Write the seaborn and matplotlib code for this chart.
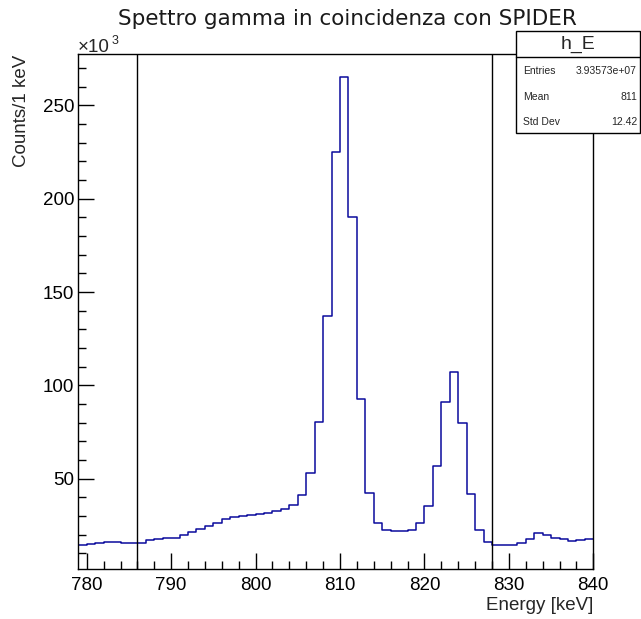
import numpy as np
import pandas as pd
import matplotlib
matplotlib.use("Agg")
import matplotlib.pyplot as plt
from matplotlib.patches import Rectangle
from matplotlib.lines import Line2D
from matplotlib.ticker import MultipleLocator
import seaborn as sns

# ---- data (counts per 1 keV bin, in units of 10^3) ----
bin_low = list(range(779, 840))  # lower edges of 1 keV bins, 779..839
counts_k = [
    14.6, 15.2, 15.7, 16.2, 16.2, 15.7, 15.7, 15.7, 17.3, 17.8,   # 779-788
    18.2, 18.2, 19.6, 21.6, 23.2, 24.6, 26.4, 28.4, 29.5, 30.0,   # 789-798
    30.5, 31.1, 31.6, 32.5, 33.8, 35.9, 41.1, 52.8, 80.4, 137.2,  # 799-808
    224.8, 265.2, 190.4, 92.6, 42.6, 26.1, 22.3, 21.8, 21.8, 22.3,  # 809-818
    26.2, 35.4, 56.6, 91.0, 107.4, 79.7, 41.7, 22.5, 16.3, 14.6,  # 819-828
    14.6, 14.6, 15.7, 17.5, 20.7, 20.0, 18.5, 17.5, 16.8, 17.1,   # 829-838
    17.8,                                                          # 839
]
cut_lines = [786, 828]
x_ticks_major = [780, 790, 800, 810, 820, 830, 840]
y_ticks_major = [50, 100, 150, 200, 250]
stats_labels = ["Entries", "Mean", "Std Dev"]
stats_values = ["3.93573e+07", "811", "12.42"]

df = pd.DataFrame({"energy": np.array(bin_low) + 0.5, "counts": counts_k})

sns.set_style("ticks")
plt.rcParams["font.family"] = ["Liberation Sans", "DejaVu Sans"]

W, H = 641, 619
fig = plt.figure(figsize=(W / 100, H / 100), dpi=100)
ax = fig.add_axes([78.3 / W, 1 - 568.7 / H, (593.3 - 78.3) / W, (568.7 - 54) / H])

sns.histplot(data=df, x="energy", weights="counts", binwidth=1, binrange=(779, 840),
             element="step", fill=False, color="#0a0a9c", linewidth=1.1, ax=ax)

for c in cut_lines:
    ax.axvline(c, color="black", linewidth=1.0)

ax.set_xlim(779, 840)
ax.set_ylim(1.8, 277.5)
ax.set_xticks(x_ticks_major)
ax.set_yticks(y_ticks_major)
ax.xaxis.set_minor_locator(MultipleLocator(2))
ax.yaxis.set_minor_locator(MultipleLocator(10))
ax.tick_params(which="both", direction="in", top=False, right=False,
               labelsize=13.5, colors="black")
ax.tick_params(which="major", length=11.5, width=1)
ax.tick_params(which="minor", length=6, width=1)
ax.tick_params(axis="x", pad=6)
ax.tick_params(axis="y", pad=3)
for s in ax.spines.values():
    s.set_visible(True)
    s.set_color("black")
    s.set_linewidth(1.0)
ax.set_xlabel("")
ax.set_ylabel("")

# titles and labels (ROOT style)
fig.text(347.5 / W, 1 - 25 / H, "Spettro gamma in coincidenza con SPIDER",
         ha="center", va="baseline", fontsize=15.5, family="DejaVu Sans", color="#1a1a1a")
fig.text(593 / W, 1 - 605 / H, "Energy [keV]", ha="right", va="center", fontsize=13.5)
fig.text(22 / W, 1 - 55 / H, "Counts/1 keV", ha="center", va="top",
         rotation=90, fontsize=13.5)
fig.text(78 / W, 1 - 52 / H, "\u00d710", ha="left", va="baseline", fontsize=13.5)
fig.text(111.5 / W, 1 - 44 / H, "3", ha="left", va="baseline", fontsize=9)

# stats box
bx0, bx1, by0, by1 = 516, 640, 31, 133
fig.patches.append(Rectangle((bx0 / W, 1 - by1 / H), (bx1 - bx0) / W, (by1 - by0) / H,
                             transform=fig.transFigure, facecolor="white",
                             edgecolor="black", linewidth=1.0, zorder=5))
fig.lines.append(Line2D([bx0 / W, bx1 / W], [1 - 57 / H, 1 - 57 / H],
                        transform=fig.transFigure, color="black", linewidth=1.0, zorder=6))
fig.text((bx0 + bx1) / 2 / W, 1 - 44 / H, "h_E", ha="center", va="center",
         fontsize=14, zorder=7)
for i, (lab, val) in enumerate(zip(stats_labels, stats_values)):
    yy = 1 - (71 + 25.5 * i) / H
    fig.text(523 / W, yy, lab, ha="left", va="center", fontsize=7.5, zorder=7)
    fig.text(637 / W, yy, val, ha="right", va="center", fontsize=7.5, zorder=7)

fig.savefig("out.png", dpi=100)
